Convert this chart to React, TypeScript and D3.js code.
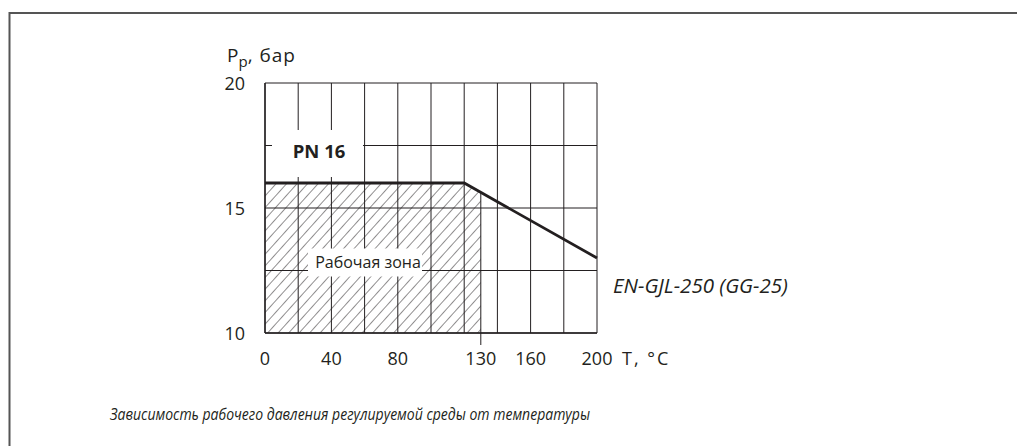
import React from 'react'
import * as d3 from 'd3'

// temperature, °C
const gridTemps = [0, 20, 40, 60, 80, 100, 120, 140, 160, 180, 200]
const tempLabels = [0, 40, 80, 130, 160, 200]
// pressure, bar
const gridPressures = [10, 12.5, 15, 17.5, 20]
const pressureLabels = [10, 15, 20]
// PN 16 rating curve for EN-GJL-250
const ratingTemps = [0, 120, 200]
const ratingPressures = [16, 16, 13]
const zoneMaxTemp = 130

const width = 1017
const height = 446
const font = '"Open Sans", "Noto Sans", sans-serif'
const ink = '#231f20'

export default function App() {
  const x = d3.scaleLinear().domain([0, 200]).range([265, 597])
  const y = d3.scaleLinear().domain([10, 20]).range([333, 83])

  const rating = d3.scaleLinear().domain(ratingTemps).range(ratingPressures)
  const ratingLine = d3
    .line<number>()
    .x((d) => x(d))
    .y((d, i) => y(ratingPressures[i]))

  const zonePts: [number, number][] = [
    [0, 10],
    ...ratingTemps.filter((t) => t < zoneMaxTemp).map((t) => [t, rating(t)] as [number, number]),
    [zoneMaxTemp, rating(zoneMaxTemp)],
    [zoneMaxTemp, 10],
  ]
  const zonePath = d3
    .line<[number, number]>()
    .x((d) => x(d[0]))
    .y((d) => y(d[1]))(zonePts) + 'Z'

  return (
    <svg
      width={width}
      height={height}
      style={{ position: 'absolute', left: 0, top: 0, background: '#fff' }}
      fontFamily={font}
    >
      <defs>
        <pattern
          id="hatch"
          patternUnits="userSpaceOnUse"
          width={7.8}
          height={7.8}
          patternTransform="rotate(42)"
        >
          <line x1={0} y1={-1} x2={0} y2={9} stroke={ink} strokeWidth={1} />
        </pattern>
      </defs>

      {/* frame */}
      <path d={`M9.5,${height}V13H${width}`} fill="none" stroke="#555" strokeWidth={2} />

      {/* hatched working zone */}
      <path d={zonePath} fill="url(#hatch)" stroke="none" />

      {/* grid */}
      <g stroke={ink} strokeWidth={1}>
        {gridTemps.map((t) => (
          <line key={'v' + t} x1={x(t)} x2={x(t)} y1={y(10)} y2={y(20)} />
        ))}
        {gridPressures.map((p) => (
          <line key={'h' + p} x1={x(0)} x2={x(200)} y1={y(p)} y2={y(p)} />
        ))}
        <line x1={x(zoneMaxTemp)} x2={x(zoneMaxTemp)} y1={y(rating(zoneMaxTemp))} y2={y(10) + 12} />
      </g>
      <line x1={x(0)} x2={x(200)} y1={y(10)} y2={y(10)} stroke={ink} strokeWidth={1.4} />
      <line x1={x(0)} x2={x(0)} y1={y(10)} y2={y(20)} stroke={ink} strokeWidth={1.4} />

      {/* rating line */}
      <path d={ratingLine(ratingTemps) || ''} fill="none" stroke={ink} strokeWidth={2.8} />

      {/* PN 16 label */}
      <rect x={x(0) + 7} y={130} width={91} height={47} fill="#fff" />
      <text x={319} y={y(16) - 25} textAnchor="middle" fontSize={18.5} fontWeight="bold" fill={ink}>
        PN 16
      </text>

      {/* working zone label */}
      <rect x={308} y={y(12.5) - 22} width={114} height={28} fill="#fff" />
      <text x={368} y={y(12.5) - 3} textAnchor="middle" fontSize={16} fill={ink}>
        Рабочая зона
      </text>

      {/* axis labels */}
      <g fontSize={18} fill={ink}>
        {pressureLabels.map((p) => (
          <text key={p} x={245} y={y(p) + 7} textAnchor="end">
            {p}
          </text>
        ))}
        {tempLabels.map((t) => (
          <text key={t} x={x(t)} y={365} textAnchor="middle">
            {t}
          </text>
        ))}
        <text x={622} y={365} letterSpacing={2}>
          T, °C
        </text>
        <text x={227} y={62} fontSize={19}>
          P
          <tspan fontSize={15} dy={5}>
            p
          </tspan>
          <tspan dy={-5} letterSpacing={1}>
            , бар
          </tspan>
        </text>
      </g>

      <text x={613} y={293} fontSize={20.5} fontStyle="italic" fill={ink}>
        EN-GJL-250 (GG-25)
      </text>

      <text
        x={110}
        y={420}
        fontSize={16.5}
        fontStyle="italic"
        fill={ink}
        textLength={480}
        lengthAdjust="spacingAndGlyphs"
      >
        Зависимость рабочего давления регулируемой среды от температуры
      </text>
    </svg>
  )
}
